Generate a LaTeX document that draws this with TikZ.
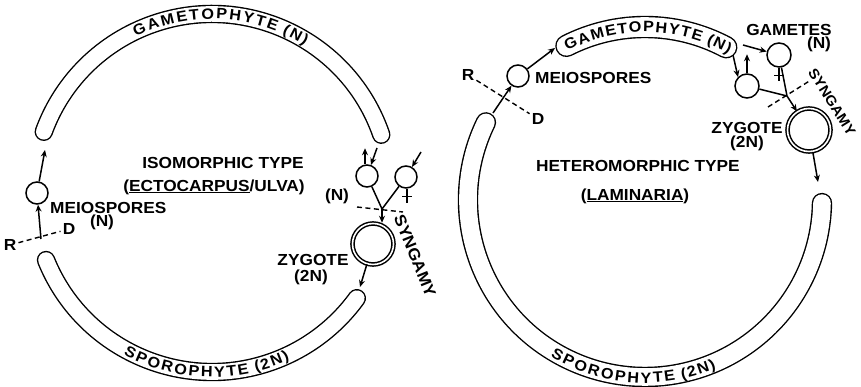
\documentclass[tikz,border=0pt]{standalone}
\usepackage{fontspec}
\newfontfamily\lf[FakeStretch=1.08]{Liberation Sans}
\usetikzlibrary{arrows.meta}
\newcommand\lt{\lf\bfseries\fontsize{16}{18}\selectfont}
\newcommand\ltarc{\lf\bfseries\fontsize{15}{17}\selectfont}
\newcommand\ltsm{\lf\bfseries\fontsize{14}{16}\selectfont}
\newcommand\myband[6]{%
  \draw[line width=#5, line cap=round] (#1) ++(#3:#2) arc[start angle=#3,end angle=#4,radius=#2];
  \draw[white, line width=#6, line cap=round] (#1) ++(#3:#2) arc[start angle=#3,end angle=#4,radius=#2];}
% #1 centre, #2 baseline radius, #3 start angle, #4 direction (-1 clockwise, +1 anticlockwise),
% #5 advance in pt per em, #6 list of letter/width
\newcommand\arclabel[6]{%
  \xdef\curang{#3}%
  \foreach \ch/\w in {#6} {%
    \pgfmathsetmacro\da{#4*\w*#5/#2*180/pi}%
    \pgfmathsetmacro\midang{\curang+\da/2}%
    \pgfmathsetmacro\rot{\midang+#4*90}%
    \path (#1) ++(\midang:#2) node[rotate=\rot, anchor=base, inner sep=0pt, font=\ltarc] {\ch};
    \pgfmathsetmacro\newang{\curang+\da}%
    \xdef\curang{\newang}%
  }}
\begin{document}
\begin{tikzpicture}[x=1pt,y=1pt,
  lab/.style={font=\lt, inner sep=0pt},
  rdlab/.style={font=\lt, inner sep=2pt},
  gam/.style={draw, circle, line width=1.5pt, minimum size=22pt, inner sep=0pt},
  zyg/.style={draw, circle, double, double distance=1.6pt, line width=1.5pt, minimum size=41pt, inner sep=0pt},
  arr/.style={-{Stealth[length=7pt,width=6pt]}, line width=1.5pt},
  ln/.style={line width=1.5pt},
  dsh/.style={line width=1.4pt, dash pattern=on 5pt off 3.5pt}]
\useasboundingbox[fill=white] (0,0) rectangle (861,387);

% ---------------- left cycle ----------------
\coordinate (C1) at (212,194);
\myband{C1}{179}{19}{160}{18.4pt}{15.6pt}
\myband{C1}{179}{202}{324}{18.4pt}{15.6pt}
\arclabel{C1}{174}{116.4}{-1}{19}{G/.778,A/.722,M/.833,E/.667,T/.611,O/.778,P/.667,H/.722,Y/.667,T/.611,E/.667,{}/.278,{(}/.333,N/.722,{)}/.333}
\arclabel{C1}{184}{240.9}{1}{19}{S/.667,P/.667,O/.778,R/.722,O/.778,P/.667,H/.722,Y/.667,T/.611,E/.667,{}/.278,{(}/.333,2/.556,N/.722,{)}/.333}

\node[lab] (iso) at (223,224) {ISOMORPHIC TYPE};
\node[lab] (ecto) at (214,200) {(\underline{ECTOCARPUS}/ULVA)};

\node[gam] (m1) at (37,194) {};
\node[lab, anchor=west] (ml1) at (50,179) {MEIOSPORES};
\node[lab] (mn1) at (102,165) {(N)};
\coordinate (gl1) at (45,237);
\coordinate (sl1) at (41,148);
\draw[arr] (m1) -- (gl1);
\draw[arr] (sl1) -- (m1);
\node[rdlab] (R1) at (10,142) {R};
\node[rdlab] (D1) at (69,158) {D};
\draw[dsh] (R1) -- (D1);

\node[gam] (g1) at (367,211) {};
\node[gam] (g2) at (406,210) {};
\coordinate (ge1) at (377,239);
\coordinate (fr1) at (421,235);
\draw[arr] (g1.north) ++(-2,0) -- ++(0,16);
\draw[arr] (ge1) -- (g1);
\draw[arr] (fr1) -- (g2);
\draw[ln] (g2.south) ++(1,0) -- ++(0,-14);
\draw[ln] (g2.south) ++(-4,-8) -- ++(10,0);
\node[lab] (n1) at (337,191) {(N)};
\coordinate (J1) at (382,178);
\draw[ln] (g1) -- (J1);
\draw[ln] (g2) -- (J1);
\node[zyg] (z1) at (373,143) {};
\draw[arr] (J1) -- (J1 |- z1.north);
\coordinate (sd1a) at (357,180);
\coordinate (sd1b) at (403,175);
\draw[dsh] (sd1a) -- (sd1b);
\node[lab, rotate=-68] (syn1) at (415,131) {SYNGAMY};
\node[lab] (zl1) at (313,127) {ZYGOTE};
\node[lab] (zn1) at (311,110) {(2N)};
\coordinate (se1) at (360,100);
\draw[arr] (z1) -- (se1);

% ---------------- right cycle ----------------
\coordinate (C2) at (645,187);
\myband{C2}{177}{154}{359}{20.4pt}{17.6pt}
\myband{C2}{173}{62}{117}{22.4pt}{19.6pt}
\arclabel{C2}{168}{117.8}{-1}{18}{G/.778,A/.722,M/.833,E/.667,T/.611,O/.778,P/.667,H/.722,Y/.667,T/.611,E/.667,{}/.278,{(}/.333,N/.722,{)}/.333}
\arclabel{C2}{183}{238.6}{1}{19}{S/.667,P/.667,O/.778,R/.722,O/.778,P/.667,H/.722,Y/.667,T/.611,E/.667,{}/.278,{(}/.333,2/.556,N/.722,{)}/.333}

\node[lab] (het) at (638,221) {HETEROMORPHIC TYPE};
\node[lab] (lam) at (635,191) {(\underline{LAMINARIA})};

\node[gam] (m2) at (518,311) {};
\node[lab, anchor=west] (ml2) at (535,309) {MEIOSPORES};
\coordinate (gl2) at (555,339);
\coordinate (sl2) at (493,274);
\draw[arr] (m2) -- (gl2);
\draw[arr] (sl2) -- (m2);
\node[rdlab] (R2) at (468,312) {R};
\node[rdlab] (D2) at (538,268) {D};
\draw[dsh] (R2) -- (D2);

\node[gam, minimum size=24pt] (gA) at (779,332) {};
\node[gam, minimum size=24pt] (gB) at (747,301) {};
\coordinate (ge2a) at (743,342);
\coordinate (ge2b) at (733,332);
\draw[arr] (ge2a) -- (gA);
\draw[arr] (ge2b) -- (gB.north west);
\draw[arr] (gB.north) -- ++(0,19);
\draw[ln] (gA.south) -- ++(0,-13);
\draw[ln] (gA.south) ++(-5,-8) -- ++(10,0);
\node[lab] (gt) at (789,357) {GAMETES};
\node[lab] (gtn) at (819,343) {(N)};
\coordinate (J2) at (787,291);
\draw[ln] (gB) -- (J2);
\draw[ln] (gA) -- (J2);
\node[zyg, minimum size=43pt] (z2) at (809,257) {};
\draw[arr] (J2) -- (z2);
\coordinate (sd2a) at (768,280);
\coordinate (sd2b) at (811,307);
\draw[dsh] (sd2a) -- (sd2b);
\node[lab, font=\ltsm, rotate=-58] (syn2) at (832,285) {SYNGAMY};
\node[lab] (zl2) at (747,259) {ZYGOTE};
\node[lab] (zn2) at (747,244) {(2N)};
\coordinate (se2) at (818,205);
\draw[arr] (z2) -- (se2);
\end{tikzpicture}
\end{document}
